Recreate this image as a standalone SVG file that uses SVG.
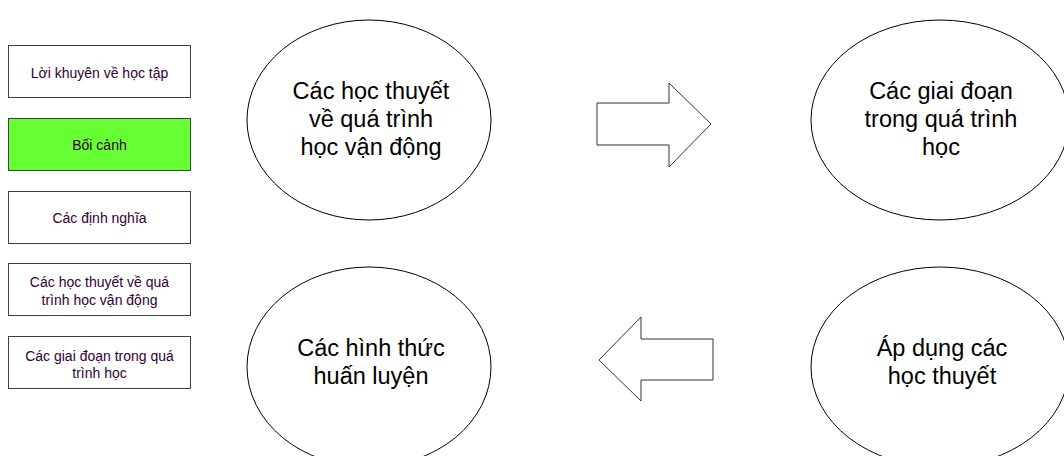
<svg xmlns="http://www.w3.org/2000/svg" width="1064" height="456" viewBox="0 0 1064 456">
<style>
.box{fill:#ffffff;stroke:#404040;stroke-width:1}
.hl{fill:#66ff33}
.bt{font-family:"Liberation Sans",Arial,sans-serif;font-size:14px;fill:#330033;text-anchor:middle}
.el{fill:#ffffff;stroke:#000000;stroke-width:1}
.et{font-family:"Liberation Sans",Arial,sans-serif;font-size:23.5px;fill:#000000;text-anchor:middle}
.ar{fill:#ffffff;stroke:#333333;stroke-width:1}
</style>
<rect width="1064" height="456" fill="#ffffff"/>
<g id="nav1"><rect class="box" x="8.5" y="45.5" width="182" height="52"/><text class="bt" x="99.5" y="78">Lời khuyên về học tập</text></g>
<g id="nav2"><rect class="box hl" x="8.5" y="118.5" width="182" height="52"/><text class="bt" x="99.5" y="150">Bối cảnh</text></g>
<g id="nav3"><rect class="box" x="8.5" y="191.5" width="182" height="52"/><text class="bt" x="99.5" y="223">Các định nghĩa</text></g>
<g id="nav4"><rect class="box" x="8.5" y="263.5" width="182" height="52"/><text class="bt" x="99.5" y="287">Các học thuyết về quá</text><text class="bt" x="99.5" y="305">trình học vận động</text></g>
<g id="nav5"><rect class="box" x="8.5" y="336.5" width="182" height="52"/><text class="bt" x="99.5" y="361">Các giai đoạn trong quá</text><text class="bt" x="99.5" y="378">trình học</text></g>
<g id="e1"><ellipse class="el" cx="369" cy="120" rx="122" ry="100"/><text class="et" x="371" y="99">Các học thuyết</text><text class="et" x="371" y="127">về quá trình</text><text class="et" x="371" y="155">học vận động</text></g>
<g id="e2"><ellipse class="el" cx="940" cy="120" rx="129" ry="100"/><text class="et" x="941" y="99">Các giai đoạn</text><text class="et" x="941" y="127">trong quá trình</text><text class="et" x="941" y="155">học</text></g>
<g id="e3"><ellipse class="el" cx="369" cy="367" rx="122" ry="100"/><text class="et" x="371" y="356">Các hình thức</text><text class="et" x="371" y="384">huấn luyện</text></g>
<g id="e4"><ellipse class="el" cx="940" cy="367" rx="129" ry="100"/><text class="et" x="942" y="356">Áp dụng các</text><text class="et" x="942" y="384">học thuyết</text></g>
<g id="connectors">
<polygon class="ar" points="597,103 669,103 669,83 711,124 669,167 669,145 597,145"/>
<polygon class="ar" points="713,339 641,339 641,317 599,360 641,401 641,380 713,380"/>
</g>
</svg>
